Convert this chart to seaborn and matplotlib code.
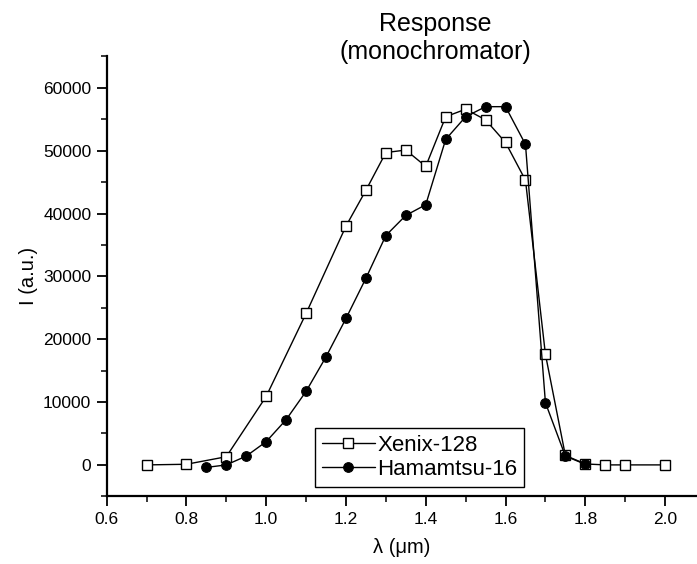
import matplotlib
matplotlib.use('Agg')
import matplotlib.pyplot as plt
import seaborn as sns
import pandas as pd
from matplotlib.ticker import MultipleLocator

# Data
x_xenix = [0.7, 0.8, 0.9, 1.0, 1.1, 1.2, 1.25, 1.3, 1.35, 1.4, 1.45, 1.5, 1.55,
           1.6, 1.65, 1.7, 1.75, 1.8, 1.85, 1.9, 2.0]
i_xenix = [0, 100, 1300, 10900, 24100, 38000, 43700, 49700, 50100, 47500, 55400,
           56600, 54900, 51300, 45300, 17600, 1500, 150, 0, 0, 0]

x_ham = [0.85, 0.9, 0.95, 1.0, 1.05, 1.1, 1.15, 1.2, 1.25, 1.3, 1.35, 1.4, 1.45,
         1.5, 1.55, 1.6, 1.65, 1.7, 1.75, 1.8]
i_ham = [-400, 0, 1400, 3700, 7200, 11700, 17200, 23300, 29700, 36500, 39700,
         41400, 51800, 55400, 57000, 57000, 51000, 9900, 1400, 100]

df_x = pd.DataFrame({'lam': x_xenix, 'I': i_xenix})
df_h = pd.DataFrame({'lam': x_ham, 'I': i_ham})

sns.set_style('ticks')
plt.rcParams['font.family'] = ['Liberation Sans', 'DejaVu Sans']
plt.rcParams['text.color'] = 'black'
plt.rcParams['axes.labelcolor'] = 'black'

fig = plt.figure(figsize=(6.97, 5.64), dpi=100)
ax = fig.add_axes([0.153, 0.12, 0.847, 0.78])

sns.lineplot(data=df_x, x='lam', y='I', ax=ax, color='black', lw=1,
             marker='s', markersize=6.5, markerfacecolor='white',
             markeredgecolor='black', markeredgewidth=1, label='Xenix-128')
sns.lineplot(data=df_h, x='lam', y='I', ax=ax, color='black', lw=1,
             marker='o', markersize=7, markerfacecolor='black',
             markeredgecolor='black', label='Hamamtsu-16')

ax.set_xlim(0.6, 2.08)
ax.set_ylim(-5000, 65000)
ax.xaxis.set_minor_locator(MultipleLocator(0.1))
ax.yaxis.set_major_locator(MultipleLocator(10000))
ax.yaxis.set_minor_locator(MultipleLocator(5000))
ax.set_xticks([0.6, 0.8, 1.0, 1.2, 1.4, 1.6, 1.8, 2.0])
ax.set_xticklabels(['0.6', '0.8', '1.0', '1.2', '1.4', '1.6', '1.8', '2.0'])
ax.tick_params(which='major', direction='out', length=7, width=1.3,
               labelsize=12.5, colors='black', pad=4)
ax.tick_params(which='minor', direction='out', length=4, width=1.3)

sns.despine(ax=ax)
for s in ['left', 'bottom']:
    ax.spines[s].set_linewidth(1.6)
    ax.spines[s].set_color('black')

ax.set_xlabel('λ (μm)', fontsize=14.5, labelpad=8)
ax.set_ylabel('I (a.u.)', fontsize=14.5, labelpad=4)

fig.text(0.624, 0.978, 'Response\n(monochromator)', ha='center', va='top',
         fontsize=18, linespacing=1.2)

leg = ax.legend(loc='lower left', bbox_to_anchor=(0.353, 0.022), fontsize=16,
                frameon=True, fancybox=False, framealpha=1, edgecolor='black',
                handlelength=2.4, handletextpad=0.1, borderpad=0.3,
                labelspacing=0.15, borderaxespad=0)
leg.get_frame().set_linewidth(1)

plt.savefig('out.png', dpi=100)
